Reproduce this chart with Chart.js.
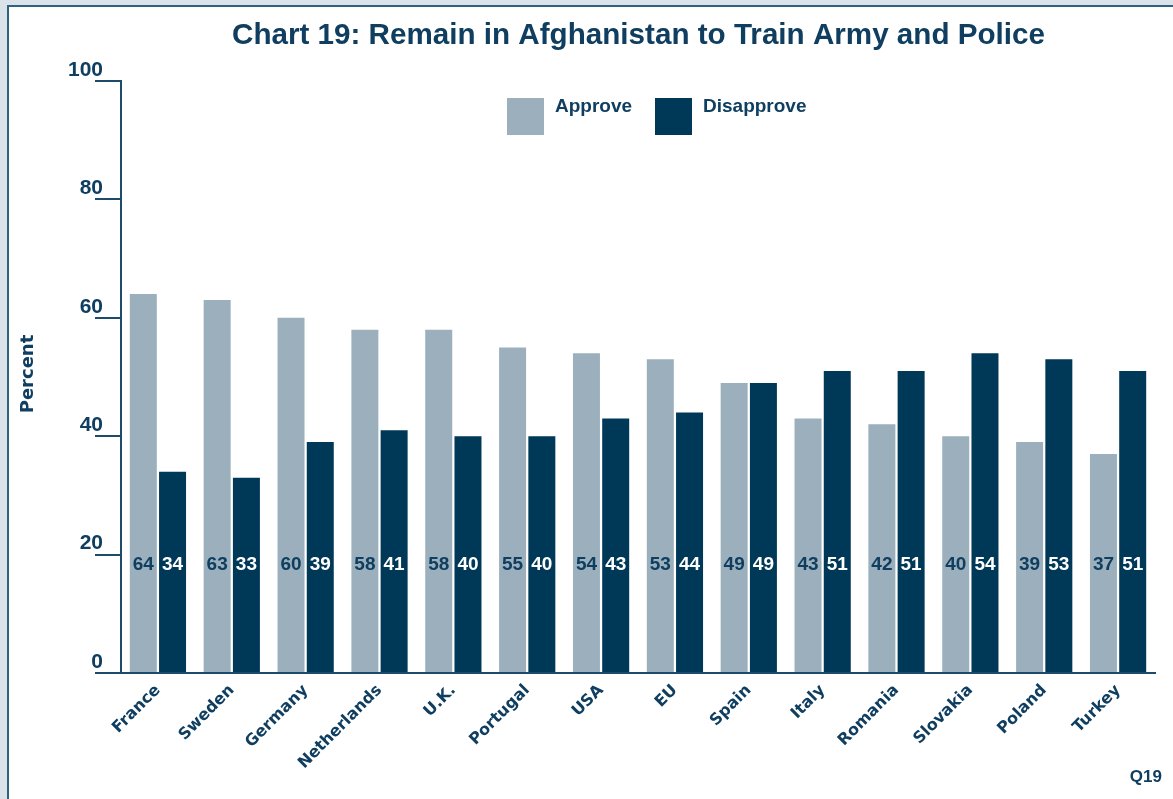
<!DOCTYPE html>
<html>
<head>
<meta charset="utf-8">
<script src="https://cdn.jsdelivr.net/npm/chart.js@4"></script>
<style>
  html, body { margin: 0; padding: 0; width: 1173px; height: 799px; overflow: hidden; background: #dbe3ea; }
  #panel { position: absolute; left: 7px; top: 5px; width: 1200px; height: 820px; background: #ffffff;
           border-top: 2px solid #2f6180; border-left: 2px solid #2f6180; }
  #c { position: absolute; left: 0; top: 0; }
</style>
</head>
<body>
<div id="panel"></div>
<canvas id="c" width="1173" height="799"></canvas>
<script>
const categories = ['France','Sweden','Germany','Netherlands','U.K.','Portugal','USA','EU','Spain','Italy','Romania','Slovakia','Poland','Turkey'];
const approve    = [64,63,60,58,58,55,54,53,49,43,42,40,39,37];
const disapprove = [34,33,39,41,40,40,43,44,49,51,51,54,53,51];
const yTicks = [0,20,40,60,80,100];
const seriesNames = ['Approve','Disapprove'];
const titleText = 'Chart 19: Remain in Afghanistan to Train Army and Police';
const yTitle = 'Percent';
const footnote = 'Q19';

const TEXT = '#0f3e60';
const AXIS = '#1c4b6b';
const C_APPROVE = '#9bb0bc';
const C_DISAPPROVE = '#003857';

const extras = {
  id: 'extras',
  afterDatasetsDraw(chart) {
    const ctx = chart.ctx;
    const yPix = chart.scales.y.getPixelForValue(18.2);
    ctx.save();
    ctx.font = 'bold 19px "Liberation Sans", Arial, sans-serif';
    ctx.textAlign = 'center';
    ctx.textBaseline = 'middle';
    chart.data.datasets.forEach((ds, i) => {
      const meta = chart.getDatasetMeta(i);
      ctx.fillStyle = i === 0 ? TEXT : '#ffffff';
      meta.data.forEach((bar, j) => {
        ctx.fillText(String(ds.data[j]), bar.x, yPix);
      });
    });
    ctx.restore();
  },
  afterDraw(chart) {
    const ctx = chart.ctx;
    ctx.save();
    // title
    ctx.fillStyle = TEXT;
    ctx.font = 'bold 30px "Liberation Sans", Arial, sans-serif';
    ctx.textAlign = 'center';
    ctx.textBaseline = 'alphabetic';
    ctx.fillText(titleText, 638.5, 44, 813);
    // legend
    const boxes = [[507, 98], [655, 98]];
    chart.data.datasets.forEach((ds, i) => {
      const [bx, by] = boxes[i];
      ctx.fillStyle = ds.backgroundColor;
      ctx.fillRect(bx, by, 37, 37);
      ctx.fillStyle = TEXT;
      ctx.font = 'bold 19px "Liberation Sans", Arial, sans-serif';
      ctx.textAlign = 'left';
      ctx.fillText(ds.label, bx + 48, 112);
    });
    // y title
    ctx.save();
    ctx.translate(33, 374);
    ctx.rotate(-Math.PI / 2);
    ctx.font = 'bold 18px "DejaVu Sans", sans-serif';
    ctx.textAlign = 'center';
    ctx.textBaseline = 'alphabetic';
    ctx.fillText(yTitle, 0, 0);
    ctx.restore();
    // footnote
    ctx.font = 'bold 17px "Liberation Sans", Arial, sans-serif';
    ctx.textAlign = 'right';
    ctx.fillText(footnote, 1162, 782);
    ctx.restore();
  }
};

new Chart(document.getElementById('c'), {
  type: 'bar',
  data: {
    labels: categories,
    datasets: [
      { label: seriesNames[0], data: approve, backgroundColor: C_APPROVE, borderWidth: 0 },
      { label: seriesNames[1], data: disapprove, backgroundColor: C_DISAPPROVE, borderWidth: 0 }
    ]
  },
  options: {
    responsive: false,
    animation: false,
    devicePixelRatio: 1,
    layout: { padding: { top: 81, left: 0, right: 18, bottom: 0 } },
    datasets: { bar: { categoryPercentage: 0.792, barPercentage: 0.923 } },
    plugins: { legend: { display: false }, title: { display: false }, tooltip: { enabled: false } },
    scales: {
      x: {
        offset: true,
        grid: { display: false, drawTicks: false },
        border: { display: true, color: AXIS, width: 2 },
        ticks: {
          color: TEXT,
          font: { family: '"DejaVu Sans", sans-serif', weight: 'bold', size: 16 },
          minRotation: 45, maxRotation: 45, padding: 8, autoSkip: false
        },
        afterFit(scale) { scale.height = 126; }
      },
      y: {
        min: 0, max: 100,
        afterBuildTicks(scale) { scale.ticks = yTicks.map(v => ({ value: v })); },
        grid: { display: true, drawOnChartArea: false, drawTicks: true, tickLength: 26, color: AXIS, lineWidth: 2 },
        border: { display: true, color: AXIS, width: 2 },
        ticks: {
          color: TEXT,
          font: { family: '"Liberation Sans", Arial, sans-serif', weight: 'bold', size: 21 },
          padding: -8, labelOffset: -11
        },
        afterFit(scale) { scale.width = 121; }
      }
    }
  },
  plugins: [extras]
});
</script>
</body>
</html>
